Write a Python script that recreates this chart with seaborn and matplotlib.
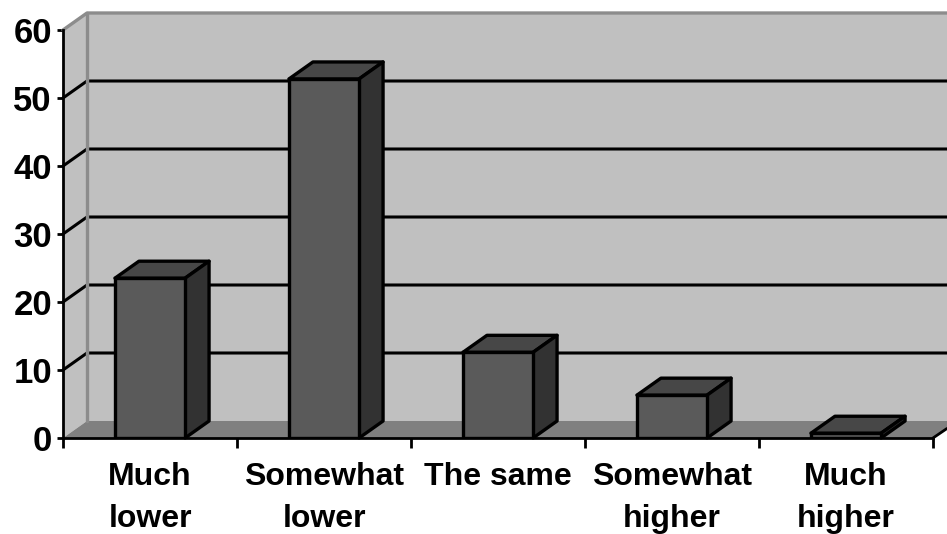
import matplotlib
matplotlib.use("Agg")
import matplotlib.pyplot as plt
from matplotlib.patches import Polygon
import pandas as pd
import seaborn as sns

categories = ["Much\nlower", "Somewhat\nlower", "The same", "Somewhat\nhigher", "Much\nhigher"]
values = [23.5, 52.8, 12.6, 6.3, 0.7]
y_ticks = [0, 10, 20, 30, 40, 50, 60]

W, H = 947, 534
DEPTH_X = 24 / 174
DEPTH_Y = 2.5
FRONT = "#5a5a5a"
TOP = "#474747"
SIDE = "#323232"
WALL = "#c0c0c0"
FLOOR = "#808080"
EDGE = "#8c8c8c"

sns.set_theme(style="white")
plt.rcParams["font.family"] = ["Liberation Sans", "DejaVu Sans"]

fig = plt.figure(figsize=(W / 100, H / 100), dpi=100)
ax = fig.add_axes([63 / W, 1 - 438 / H, (933 - 63) / W, (438 - 30) / H])
df = pd.DataFrame({"category": categories, "value": values})
sns.barplot(data=df, x="category", y="value", color=FRONT, saturation=1,
            width=0.403, edgecolor="black", linewidth=2.4, ax=ax, zorder=5)
bars = list(ax.containers[0])
ax.set_xlim(-0.5, 4.5)
ax.set_ylim(0, 60)
ax.set_xlabel("")
ax.set_ylabel("")

x0, x1 = ax.get_xlim()
x_right = x0 + (W - 63) / 174

# Back wall, side wall and floor of the box
ax.add_patch(Polygon([(x0 + DEPTH_X, DEPTH_Y), (x_right, DEPTH_Y), (x_right, 60 + DEPTH_Y),
                      (x0 + DEPTH_X, 60 + DEPTH_Y)], fc=WALL, ec="none", clip_on=False, zorder=1))
ax.add_patch(Polygon([(x0, 0), (x0 + DEPTH_X, DEPTH_Y), (x0 + DEPTH_X, 60 + DEPTH_Y), (x0, 60)],
                     fc=WALL, ec="none", clip_on=False, zorder=1))
ax.add_patch(Polygon([(x0, 0), (x0 + DEPTH_X, DEPTH_Y), (x_right, DEPTH_Y), (x_right, 1.4), (x1, 0)],
                     fc=FLOOR, ec="none", clip_on=False, zorder=2))

# Gridlines wrap from the side wall onto the back wall
for v in y_ticks[1:-1]:
    ax.plot([x0, x0 + DEPTH_X, x_right], [v, v + DEPTH_Y, v + DEPTH_Y], color="black",
            lw=2.2, clip_on=False, zorder=3, solid_joinstyle="miter")
ax.plot([x0, x0 + DEPTH_X, x_right], [60, 60 + DEPTH_Y, 60 + DEPTH_Y], color=EDGE, lw=2.4,
        clip_on=False, zorder=3)
ax.plot([x0 + DEPTH_X, x0 + DEPTH_X], [DEPTH_Y, 60 + DEPTH_Y], color=EDGE, lw=2.4,
        clip_on=False, zorder=3)
ax.plot([x1, x_right], [0, 1.4], color="black", lw=2, clip_on=False, zorder=3)

# Top and side faces extruded from each bar
for bar in bars:
    left, right, h = bar.get_x(), bar.get_x() + bar.get_width(), bar.get_height()
    ax.add_patch(Polygon([(left, h), (left + DEPTH_X, h + DEPTH_Y), (right + DEPTH_X, h + DEPTH_Y), (right, h)],
                         fc=TOP, ec="black", lw=2.4, joinstyle="round", clip_on=False, zorder=4))
    ax.add_patch(Polygon([(right, 0), (right + DEPTH_X, DEPTH_Y), (right + DEPTH_X, h + DEPTH_Y), (right, h)],
                         fc=SIDE, ec="black", lw=2.4, joinstyle="round", clip_on=False, zorder=4))

# Front axis lines, ticks and labels
for side in ("top", "right"):
    ax.spines[side].set_visible(False)
for side in ("left", "bottom"):
    ax.spines[side].set_color("black")
    ax.spines[side].set_linewidth(2.0)
    ax.spines[side].set_zorder(6)
ax.set_yticks(y_ticks)
ax.set_xticks(range(5), categories)
ax.set_xticks([x0 + i for i in range(6)], minor=True)
ax.tick_params(axis="x", which="minor", length=7, width=2, color="black", bottom=True)
ax.tick_params(axis="x", which="major", length=0, pad=17, labelsize=23)
ax.tick_params(axis="y", length=4, width=2, color="black", left=True, pad=4, labelsize=25)
for label in ax.get_xticklabels() + ax.get_yticklabels():
    label.set_fontweight("bold")
    label.set_color("black")
for label in ax.get_xticklabels():
    label.set_linespacing(1.52)
    label.set_verticalalignment("top")

fig.savefig("out.png", dpi=100, facecolor="white")
